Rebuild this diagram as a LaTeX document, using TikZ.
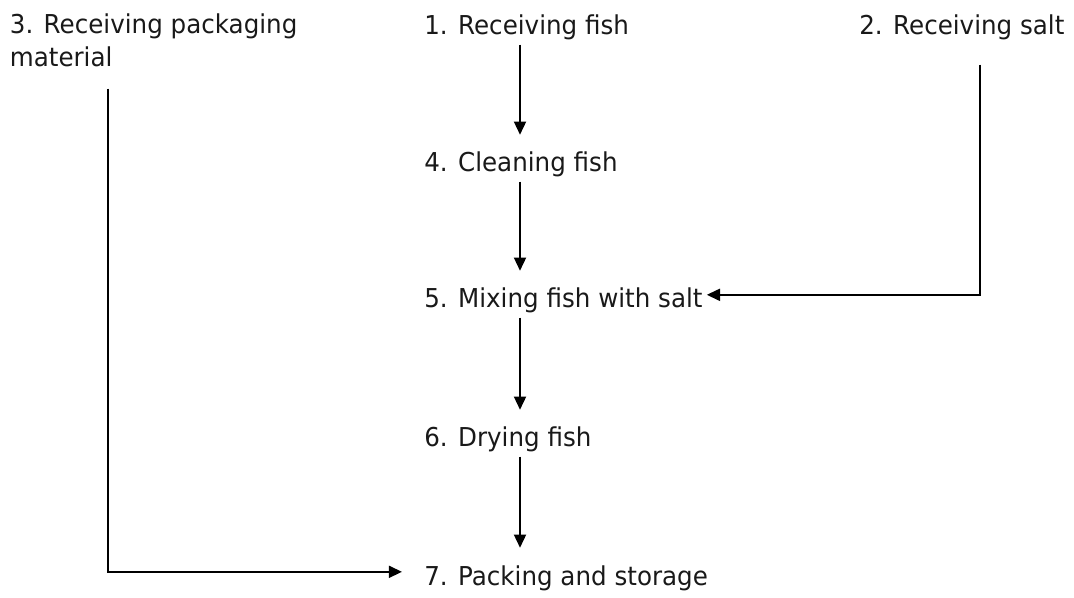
\documentclass[tikz,border=0pt]{standalone}
\usepackage{fontspec}
\setmainfont{DejaVu Sans}[FakeStretch=0.945]
\usepackage{tikz}
\usetikzlibrary{arrows.meta}

\begin{document}
\begin{tikzpicture}
\tikzstyle{stage}=[anchor=base west, inner sep=0.1cm, text=black!90, font=\fontsize{18.5}{23.5}\selectfont]
\tikzstyle{arrow}=[-{Triangle[length=0.33cm,width=0.3cm]}, line width=1.4pt, shorten >=0.33cm]
\tikzstyle{feed}=[-{Triangle[length=0.33cm,width=0.3cm]}, line width=1.4pt]
\useasboundingbox (0,0) rectangle (26.85,14.925);

\node (fish)[stage] at (10.5, 14.05) {1. Receiving fish};
\node (salt)[stage] at (21.375, 14.05) {2. Receiving salt};
\node (packmat)[stage, anchor=north west, align=left] at (0.14, 14.7) {3. Receiving packaging\\material};
\node (clean)[stage] at (10.5, 10.625) {4. Cleaning fish};
\node (mix)[stage] at (10.5, 7.225) {5. Mixing fish with salt};
\node (dry)[stage] at (10.5, 3.75) {6. Drying fish};
\node (pack)[stage] at (10.5, 0.3) {7. Packing and storage};

\coordinate (spine) at (13, 0);
\coordinate (saltline) at (24.5, 0);
\coordinate (packline) at (2.7, 0);

\draw [arrow] (fish.south -| spine) -- (clean.north -| spine);
\draw [arrow] (clean.south -| spine) -- (mix.north -| spine);
\draw [arrow] (mix.south -| spine) -- (dry.north -| spine);
\draw [arrow] (dry.south -| spine) -- (pack.north -| spine);

\draw [feed, shorten <=0.5cm] (salt.south -| saltline) |- ([yshift=0.15cm]mix.east);
\draw [feed, shorten <=0.45cm, shorten >=0.45cm] (packmat.south -| packline) |- ([yshift=0.15cm]pack.west);

\end{tikzpicture}
\end{document}
